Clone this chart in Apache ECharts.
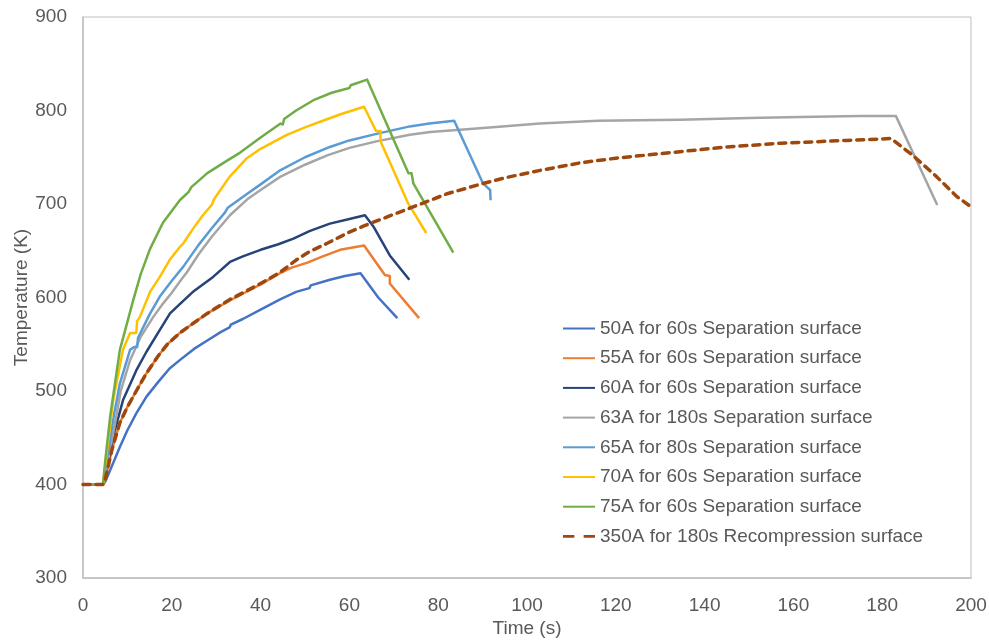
<!DOCTYPE html>
<html>
<head>
<meta charset="utf-8">
<script src="https://cdn.jsdelivr.net/npm/echarts@6/dist/echarts.min.js"></script>
<style>
  html, body { margin: 0; padding: 0; background: #fff; }
  #chart { width: 989px; height: 641px; }
</style>
</head>
<body>
<div id="chart"></div>
<script>
// Temperature histories, [time (s), temperature (K)]
const sep50A = [[0,400],[4.5,400],[5,403],[6.8,423],[8.3,440],[10,458],[12,476],[14.3,494],[17,510],[19.5,524],[21.8,533],[25,545],[28,554],[31,563],[33,568],[33.3,571],[36,577],[40,587],[44.4,598],[48,606],[51,610],[51.3,613],[55.6,619],[59,623],[62.5,626],[66.5,600],[70.8,578]];
const sep55A = [[0,400],[4.5,400],[5,405],[6.5,437],[8.3,466],[10,483],[12,500],[14.3,519],[17,538],[19,550],[21.8,562],[25,573],[28,583],[33.1,597],[36,604],[40,614],[44.4,626],[47,632],[50.4,637],[54,644],[57.9,651],[63.3,655.6],[68,624],[69.1,623],[69.1,615],[75.7,578]];
const sep60A = [[0,400],[4.5,400],[5,408],[7,455],[9,490],[12,522],[14.3,542],[17,563],[19.6,583],[21.8,593],[25,607],[29.3,622],[33.1,638],[36,644],[40,651],[44,657],[47.4,663],[51,671],[55.6,679],[60,684],[63.5,688],[65.4,676],[69.1,645],[73.5,619]];
const sep63A = [[0,400],[4.5,400],[5,410],[7,460],[8.5,500],[10.6,533],[13,558],[15.8,579],[18.1,594],[20,605],[21.8,617],[23.4,627],[26,646],[29,665],[33.1,688],[37,705],[40,715],[44.4,729],[50,742],[55,752],[60,760],[66.1,767],[73.6,774],[78.2,777],[89.4,781],[102.9,786],[116,789],[134.5,790],[150,792],[161.5,793],[175,794],[183.1,794],[192.4,699]];
const sep65A = [[0,400],[4.5,400],[5,415],[7,475],[8.3,508],[10.6,544],[11.5,547],[12.2,547],[12.4,557],[15,582],[17.3,601],[20,618],[22.6,633],[26,656],[29,674],[32,691],[32.3,691],[32.6,696],[37,711],[40,721],[44.4,736],[50,750],[55.6,761],[60,768],[66.1,775],[73.6,783],[78,786],[83.6,789],[90.1,722],[91.7,715],[91.8,704]];
const sep70A = [[0,400],[4.5,400],[5,420],[6.8,490],[9,544],[10.6,562],[12,562],[12.2,575],[12.8,579],[15.1,606],[17.3,622],[19.5,640],[21.8,654],[22.6,658],[25,675],[27,688],[29,699],[29.3,699],[29.5,705],[33,729],[36.9,749],[40,759],[45.9,774],[50,782],[53.4,788],[58,796],[63.3,804],[66,778],[67,778],[67,767],[73.2,701],[77.3,669]];
const sep75A = [[0,400],[4.5,400],[5,425],[6.1,472],[8.3,544],[11.3,597],[13,625],[15.1,652],[18,680],[21.8,704],[23.8,713],[24.1,713],[24.4,718],[28,733],[32,745],[35.4,755],[40,771],[44.5,786],[45,785],[45.3,791],[48,800],[51.9,811],[56,819],[60,824],[60.3,827],[64,833],[73.3,733],[74,733],[74.4,722],[83.4,648]];
const recomp350A = [[0,400],[4.5,400],[5,405],[6.5,437],[8.3,466],[10,483],[12,500],[14.3,519],[17,538],[19,550],[21.8,562],[25,573],[28,583],[33.1,598],[36,605],[40,615],[44.4,627],[48,640],[51,649],[55,658],[60,670],[63,676],[70,689],[76.6,701],[82,711],[89.4,721],[95,728],[103,736],[112,744],[120,749],[134.5,756],[145,761],[157,765],[172,768],[182,770],[186.9,752],[192.3,729],[196.8,708],[200,697]];

const seriesNames = [
  '50A for 60s Separation surface',
  '55A for 60s Separation surface',
  '60A for 60s Separation surface',
  '63A for 180s Separation surface',
  '65A for 80s Separation surface',
  '70A for 60s Separation surface',
  '75A for 60s Separation surface',
  '350A for 180s Recompression surface'
];
const seriesData = [sep50A, sep55A, sep60A, sep63A, sep65A, sep70A, sep75A, recomp350A];
const seriesColors = ['#4472C4', '#ED7D31', '#264478', '#A5A5A5', '#5B9BD5', '#FFC000', '#70AD47', '#9E480E'];

const FONT = 'Liberation Sans, Arial, sans-serif';
const TEXT = '#595959';
const FS = 19;

const chart = echarts.init(document.getElementById('chart'));

const series = seriesData.map((d, i) => {
  const dashed = i === seriesData.length - 1;
  return {
    name: seriesNames[i],
    type: 'line',
    data: d,
    showSymbol: false,
    symbol: 'none',
    smooth: false,
    z: dashed ? 3 : 2,
    lineStyle: dashed
      ? { color: seriesColors[i], width: 3.5, type: [7, 6], cap: 'round' }
      : { color: seriesColors[i], width: 2.5, join: 'round' },
    itemStyle: { color: seriesColors[i] }
  };
});

chart.setOption({
  animation: false,
  backgroundColor: '#fff',
  textStyle: { fontFamily: FONT },
  grid: {
    left: 83, right: 18, top: 17, bottom: 63,
    containLabel: false,
    outerBoundsMode: 'none',
    show: true, borderColor: '#BFBFBF', borderWidth: 1
  },
  legend: {
    orient: 'vertical',
    left: 558,
    top: 314,
    itemWidth: 32,
    itemHeight: 14,
    itemGap: 10.7,
    textStyle: { color: TEXT, fontSize: FS, fontFamily: FONT, padding: [0, 0, 0, 0] },
    data: seriesNames.map((n, i) => ({
      name: n,
      icon: i === seriesNames.length - 1
        ? 'path://M0,6 L11,6 L11,8.5 L0,8.5 Z M20,6 L31,6 L31,8.5 L20,8.5 Z'
        : 'path://M0,6 L32,6 L32,8 L0,8 Z'
    }))
  },
  xAxis: {
    type: 'value',
    min: 0, max: 200, interval: 20,
    name: 'Time (s)',
    nameLocation: 'middle',
    nameGap: 41,
    nameMoveOverlap: false,
    nameTextStyle: { color: TEXT, fontSize: FS, fontFamily: FONT },
    axisLine: { show: true, lineStyle: { color: '#BFBFBF', width: 1.5 } },
    axisTick: { show: false },
    splitLine: { show: false },
    axisLabel: { color: TEXT, fontSize: FS, fontFamily: FONT, margin: 18 }
  },
  yAxis: {
    type: 'value',
    min: 300, max: 900, interval: 100,
    name: 'Temperature (K)',
    nameLocation: 'middle',
    nameGap: 52,
    nameMoveOverlap: false,
    nameTextStyle: { color: TEXT, fontSize: FS, fontFamily: FONT },
    axisLine: { show: true, lineStyle: { color: '#BFBFBF', width: 1.5 } },
    axisTick: { show: false },
    splitLine: { show: false },
    axisLabel: { color: TEXT, fontSize: FS, fontFamily: FONT, margin: 16 }
  },
  series: series
});
</script>
</body>
</html>
